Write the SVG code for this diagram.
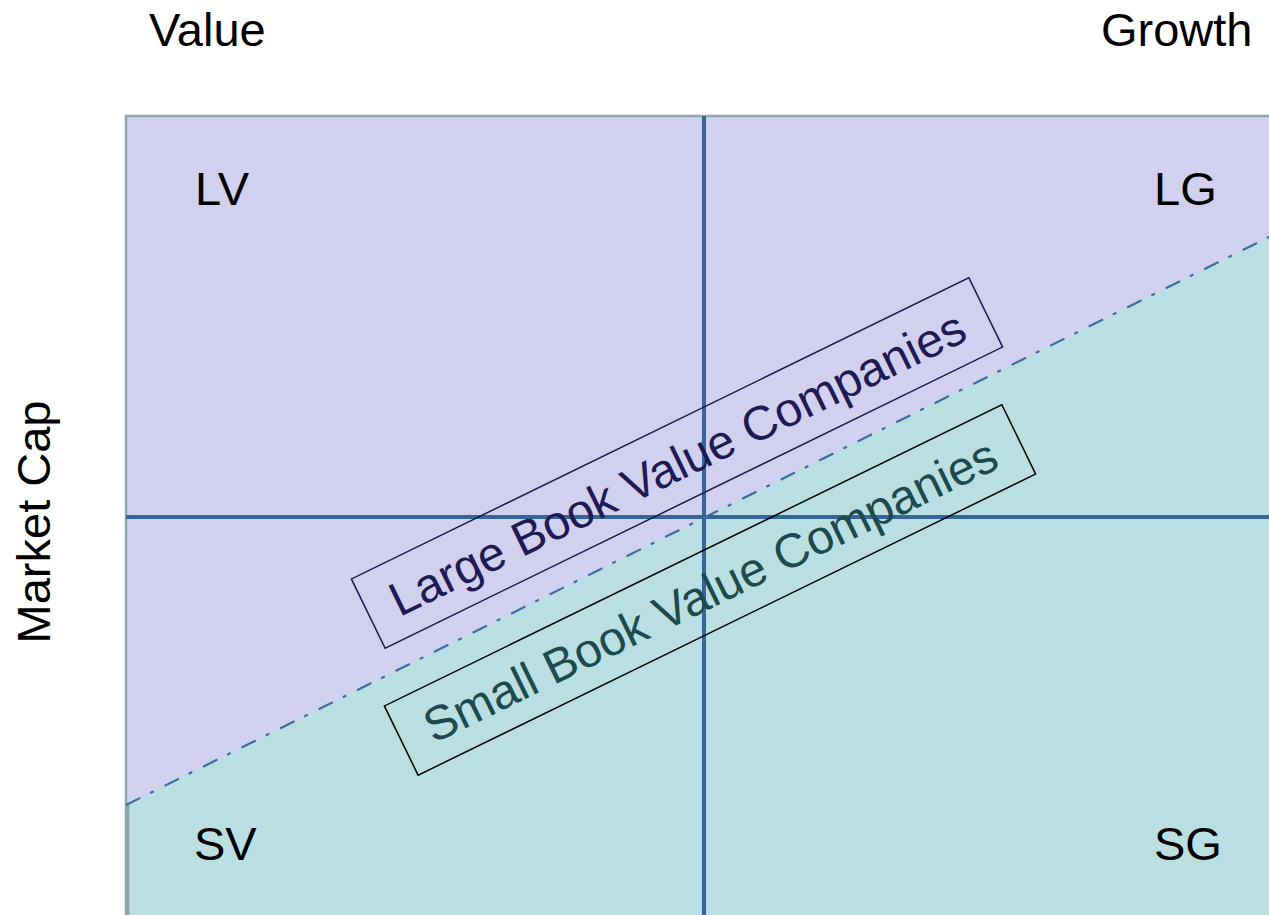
<svg xmlns="http://www.w3.org/2000/svg" width="1269" height="915" viewBox="0 0 1269 915">
  <style>
    .lbl { font-family: "Liberation Sans", Arial, sans-serif; fill: #000; }
    .axis { font-size: 47px; }
    .corner { font-size: 47px; }
    .grid { stroke: #336699; stroke-width: 4; fill: none; }
    .band { font-family: "Liberation Sans", Arial, sans-serif; font-size: 48px; text-anchor: middle; }
  </style>

  <rect width="1269" height="915" fill="#ffffff"/>

  <!-- quadrant field -->
  <g id="field">
    <rect x="126" y="116" width="1150" height="806" fill="#d1d1ef" stroke="#8fa9aa" stroke-width="2.5"/>
    <polygon points="126,805 1269,237 1269,915 126,915" fill="#badfe2"/>
    <line x1="127.5" y1="805" x2="127.5" y2="915" stroke="#8fa9aa" stroke-width="4"/>
  </g>

  <!-- connectors: grid axes and dividing line -->
  <g id="connectors">
    <line class="grid" x1="704" y1="116" x2="704" y2="915"/>
    <line class="grid" x1="126" y1="517" x2="1269" y2="517"/>
    <line x1="126" y1="805" x2="1269" y2="237" stroke="#3a6ea5" stroke-width="2.2" stroke-dasharray="16,11,4,12"/>
  </g>

  <!-- axis captions -->
  <g id="axis-value"><text class="lbl axis" x="149" y="46">Value</text></g>
  <g id="axis-growth"><text class="lbl axis" x="1101" y="46">Growth</text></g>
  <g id="axis-marketcap"><text class="lbl axis" transform="translate(50,522) rotate(-90)" text-anchor="middle">Market Cap</text></g>

  <!-- quadrant labels -->
  <g id="LV"><text class="lbl corner" x="195" y="205">LV</text></g>
  <g id="LG"><text class="lbl corner" x="1154" y="205">LG</text></g>
  <g id="SV"><text class="lbl corner" x="194" y="860">SV</text></g>
  <g id="SG"><text class="lbl corner" x="1154" y="860">SG</text></g>

  <!-- rotated band captions -->
  <g id="large-book" transform="translate(677,463) rotate(-26)">
    <rect x="-343.5" y="-38.5" width="687" height="77" fill="none" stroke="#1a1a4e" stroke-width="1.5"/>
    <text class="band" x="0" y="17" fill="#1f1a55">Large Book Value Companies</text>
  </g>
  <g id="small-book" transform="translate(710,590) rotate(-26)">
    <rect x="-343.5" y="-38.5" width="687" height="77" fill="none" stroke="#000000" stroke-width="1.5"/>
    <text class="band" x="0" y="17" fill="#1d4a4c">Small Book Value Companies</text>
  </g>
</svg>
